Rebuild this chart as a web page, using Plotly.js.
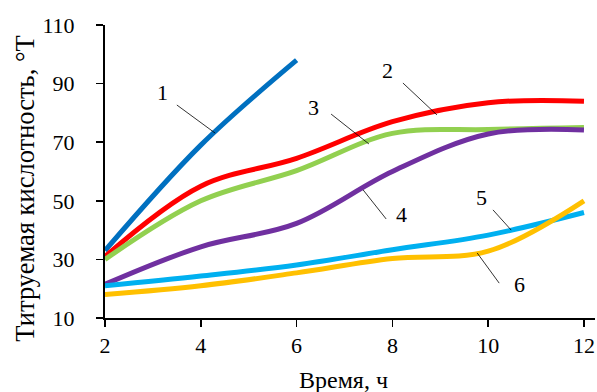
<!DOCTYPE html>
<html>
<head>
<meta charset="utf-8">
<script src="https://cdn.plot.ly/plotly-3.0.1.min.js"></script>
<style>html,body{margin:0;padding:0;background:#fff;}#chart{width:597px;height:392px;}</style>
</head>
<body>
<div id="chart"></div>
<script>
const hours = [2, 4, 6, 8, 10, 12];
const hours1 = [2, 4, 6];
const s1 = [33, 69, 98];
const s2 = [31, 55, 64.5, 77, 83.5, 84];
const s3 = [30, 50, 60.3, 73, 74.3, 75];
const s4 = [21.5, 34.3, 42.3, 60, 72.8, 74.2];
const s5 = [21, 24.3, 28.1, 33.3, 38.3, 46];
const s6 = [18, 21, 25.4, 30.3, 32.8, 50];
const seriesLabels = ["1", "2", "3", "4", "5", "6"];
const xTicks = [2, 4, 6, 8, 10, 12];
const yTicks = [10, 30, 50, 70, 90, 110];
const xTitle = 'Время, ч';
const yTitle = 'Титруемая кислотность, °Т';
const colors = ["#0070C0", "#FF0000", "#92D050", "#7030A0", "#00B0F0", "#FFC000"];

const FAM = 'Liberation Serif';
function f(size) { return {family: FAM, size: size, color: '#000'}; }

const ser = [[hours1, s1], [hours, s2], [hours, s3], [hours, s4], [hours, s5], [hours, s6]];
const traces = ser.map((s, i) => ({
  x: s[0], y: s[1], type: 'scatter', mode: 'lines', name: seriesLabels[i],
  line: {color: colors[i], width: 5, shape: 'spline', smoothing: 1}, hoverinfo: 'skip'
}));

const labelPos = [[3.21, 86.8], [7.89, 94.6], [6.36, 82.0], [8.18, 45.2], [9.87, 51.0], [10.66, 21.3]];
const leaders = [[3.50, 82.7, 4.30, 73.1], [8.22, 90.2, 8.93, 79.3], [6.72, 79.6, 7.51, 69.4],
                 [7.39, 53.7, 7.87, 43.8], [10.10, 46.9, 10.48, 40.0], [9.77, 32.2, 10.23, 21.9]];

const annotations = labelPos.map((p, i) => ({
  x: p[0], y: p[1], xref: 'x', yref: 'y', text: seriesLabels[i], showarrow: false,
  font: f(22)
}));
annotations.push({
  xref: 'paper', yref: 'paper', x: 0.486, y: -0.212, xanchor: 'center', yanchor: 'middle',
  text: xTitle, showarrow: false, font: f(24)
});
annotations.push({
  xref: 'paper', yref: 'paper', x: -0.164, y: 0.44, xanchor: 'center', yanchor: 'middle',
  text: yTitle, textangle: -90, showarrow: false, font: f(26.5)
});
const shapes = leaders.map(l => ({
  type: 'line', xref: 'x', yref: 'y', x0: l[0], y0: l[1], x1: l[2], y1: l[3],
  line: {color: '#000', width: 0.8}
}));

const layout = {
  width: 597, height: 392,
  margin: {l: 105, r: 2, t: 25, b: 74},
  paper_bgcolor: '#fff', plot_bgcolor: '#fff',
  showlegend: false,
  font: f(22),
  xaxis: {
    range: [2, 12.23], tickvals: xTicks, ticktext: xTicks.map(String),
    showgrid: false, zeroline: false, showline: true, linecolor: '#000', linewidth: 2,
    ticks: 'outside', ticklen: 7, tickwidth: 1.5, tickcolor: '#000',
    ticklabelstandoff: 0,
    tickfont: f(22)
  },
  yaxis: {
    range: [10, 110], tickvals: yTicks, ticktext: yTicks.map(String),
    showgrid: false, zeroline: false, showline: true, linecolor: '#000', linewidth: 2,
    ticks: 'outside', ticklen: 7, tickwidth: 1.5, tickcolor: '#000',
    ticklabelstandoff: 17,
    tickfont: f(22)
  },
  annotations: annotations,
  shapes: shapes
};

Plotly.newPlot('chart', traces, layout, {staticPlot: true, displayModeBar: false});
</script>
</body>
</html>
